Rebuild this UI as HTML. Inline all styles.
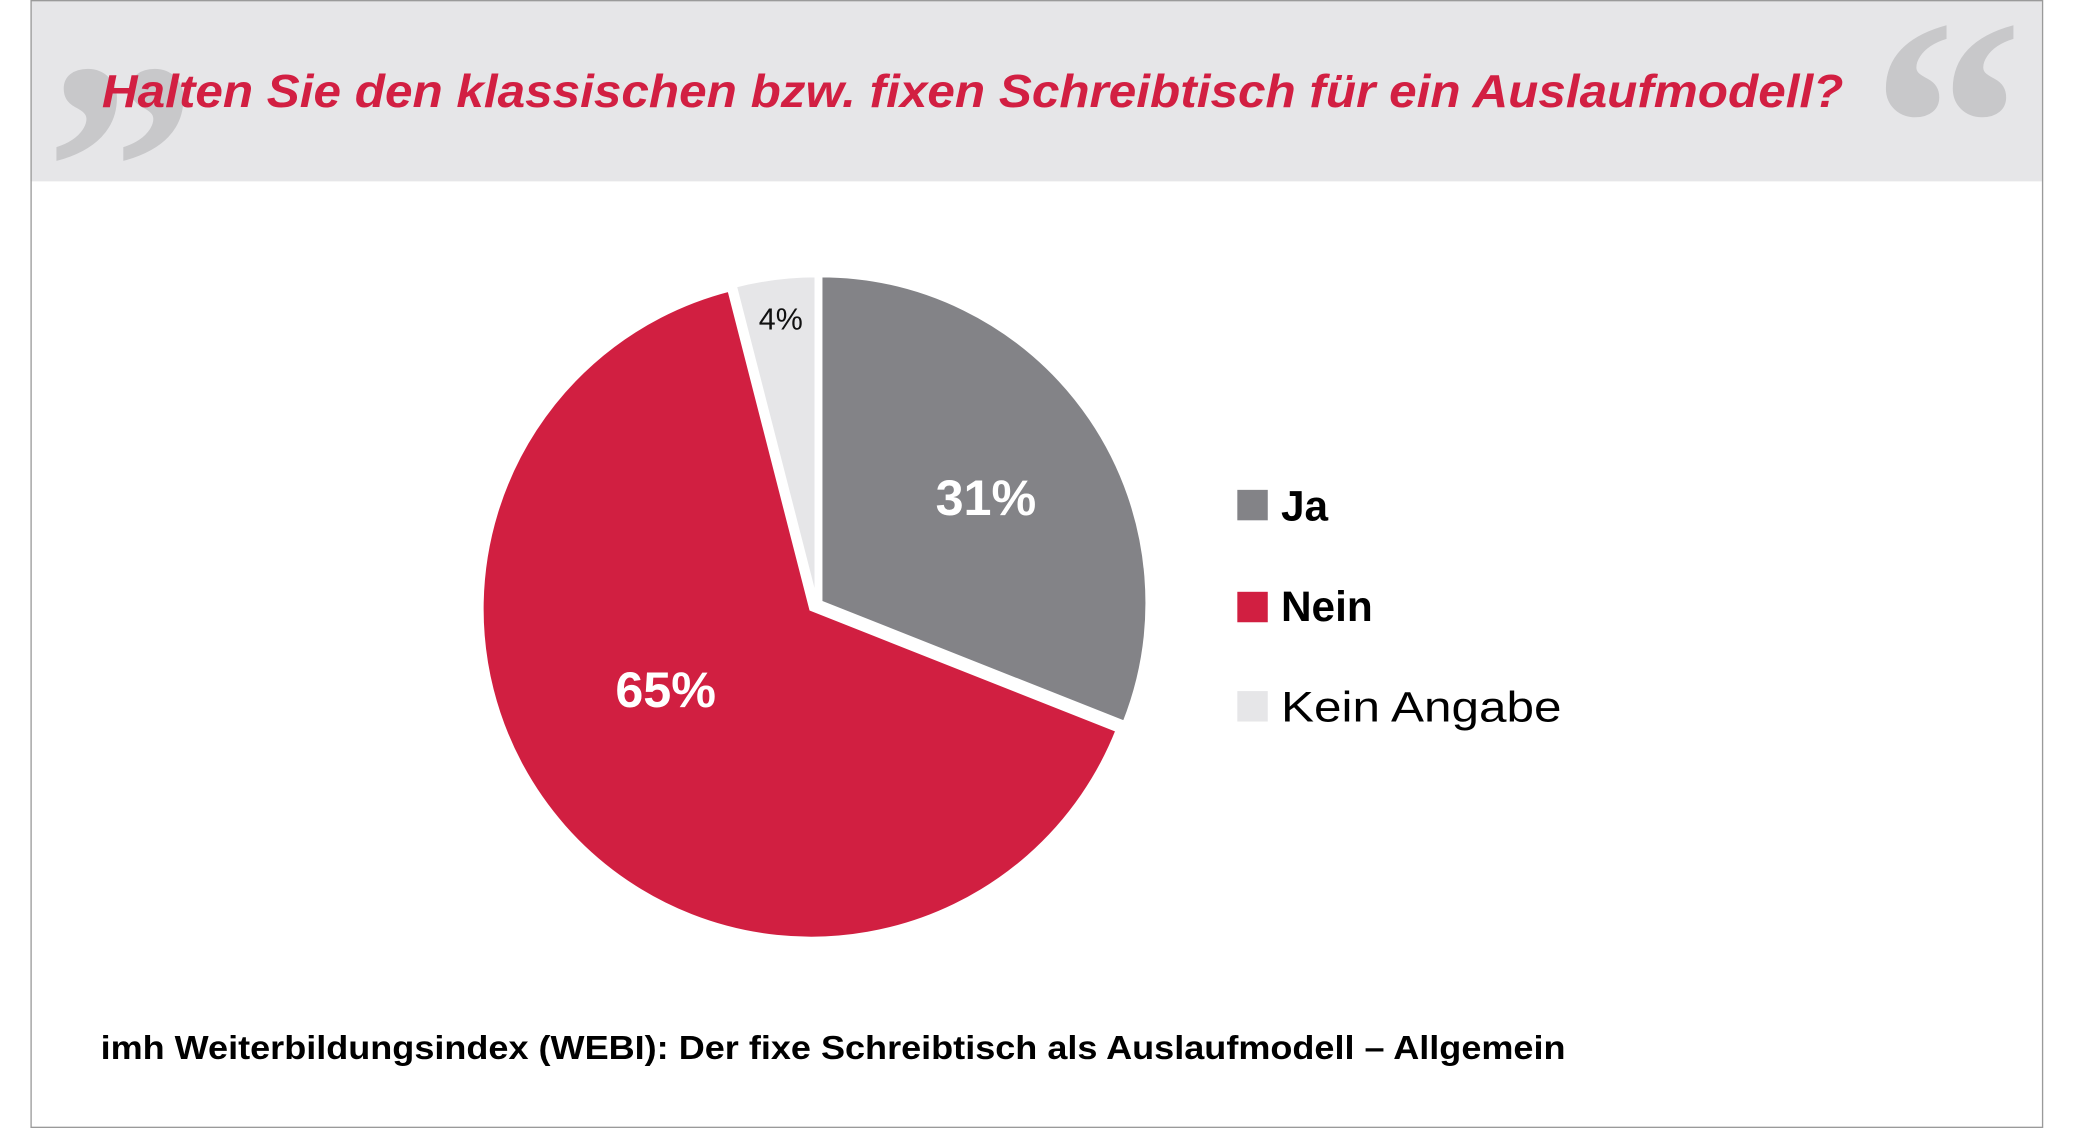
<!DOCTYPE html>
<html><head><meta charset="utf-8"><style>
html,body{margin:0;padding:0;background:#fff;}
svg{display:block;}
</style></head><body>
<svg width="2075" height="1128" viewBox="0 0 1568 852" preserveAspectRatio="none" xmlns="http://www.w3.org/2000/svg" font-family="'Liberation Sans', sans-serif">
<rect x="0" y="0" width="1568" height="852" fill="#fff"/>
<rect x="23" y="0" width="1520" height="137" fill="#e6e6e8"/>
<rect x="23.5" y="0.5" width="1520" height="851" fill="none" stroke="#9a9a9a" stroke-width="1"/>
<text x="34" y="205" font-family="'Liberation Serif', serif" font-weight="bold" font-size="230" fill="#c8c8ca">”</text>
<text x="1414" y="172" font-family="'Liberation Serif', serif" font-weight="bold" font-size="230" fill="#c8c8ca">“</text>
<text x="77" y="81" font-size="35" font-weight="bold" font-style="italic" fill="#d21f42" textLength="1316" lengthAdjust="spacingAndGlyphs">Halten Sie den klassischen bzw. fixen Schreibtisch für ein Auslaufmodell?</text>
<path d="M620,455 L620,208 A247,247 0 0 1 849.7,545.9 Z" fill="#838387" stroke="#fff" stroke-width="3"/>
<path d="M613,460 L844.5,551.6 A249,249 0 1 1 551.1,218.8 Z" fill="#d11f41" stroke="#fff" stroke-width="3"/>
<path d="M617,456 L555.3,215.8 A248,248 0 0 1 617,208 Z" fill="#e6e6e8" stroke="#fff" stroke-width="3"/>
<text x="745" y="389" font-size="38" font-weight="bold" fill="#fff" text-anchor="middle">31%</text>
<text x="503" y="534" font-size="38" font-weight="bold" fill="#fff" text-anchor="middle">65%</text>
<text x="590" y="249" font-size="23" fill="#111" text-anchor="middle">4%</text>
<rect x="935" y="370" width="23" height="23" fill="#838387"/>
<rect x="935" y="447" width="23" height="23" fill="#d11f41"/>
<rect x="935" y="522" width="23" height="23" fill="#e6e6e8"/>
<text x="968" y="393" font-size="32" font-weight="bold" fill="#000">Ja</text>
<text x="968" y="469" font-size="32" font-weight="bold" fill="#000">Nein</text>
<text x="968" y="545" font-size="32" fill="#000" textLength="212" lengthAdjust="spacingAndGlyphs">Kein Angabe</text>
<text x="76" y="800" font-size="25" font-weight="bold" fill="#000" textLength="1107" lengthAdjust="spacingAndGlyphs">imh Weiterbildungsindex (WEBI): Der fixe Schreibtisch als Auslaufmodell – Allgemein</text>
</svg>
</body></html>
